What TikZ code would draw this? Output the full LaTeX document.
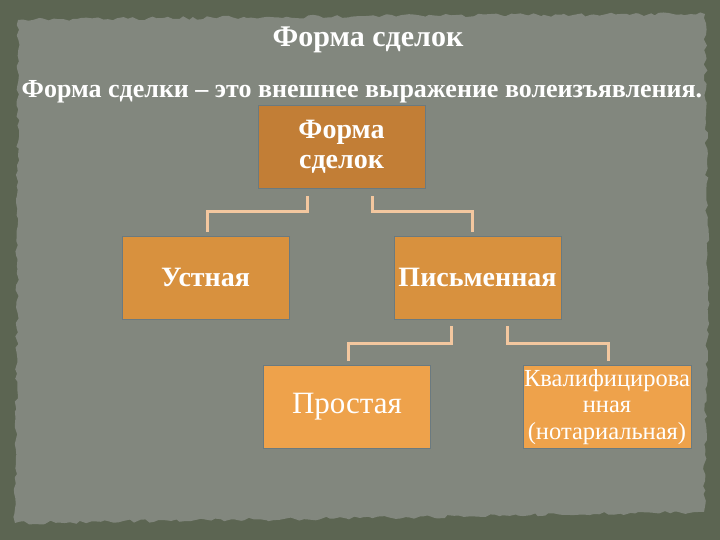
\documentclass[tikz,border=0pt]{standalone}
\usepackage{fontspec}
\setmainfont{Liberation Serif}
\usetikzlibrary{decorations.pathmorphing,calc}
\definecolor{outerbg}{HTML}{5C6552}
\definecolor{paper}{HTML}{82877E}
\definecolor{boxA}{HTML}{C27E36}
\definecolor{boxB}{HTML}{D8913E}
\definecolor{boxC}{HTML}{EEA24B}
\definecolor{peach}{HTML}{F3C79F}
\definecolor{edge}{HTML}{6A7A80}
\tikzset{
  box/.style={rectangle, minimum width=167pt, minimum height=83pt, inner sep=1pt,
    align=center, text=white, draw=edge, line width=0.8pt},
  lvlzero/.style={box, fill=boxA, font=\fontsize{28}{30}\selectfont\bfseries},
  lvlone/.style={box, fill=boxB, font=\fontsize{28}{30}\selectfont\bfseries},
  lvltwo/.style={box, fill=boxC, font=\fontsize{31}{33}\selectfont},
  conn/.style={draw=peach, line width=3pt},
  ttl/.style={text=white, inner sep=0pt}
}
\begin{document}
\begin{tikzpicture}[x=1pt,y=-1pt]
\useasboundingbox (0,0) rectangle (720,540);
\fill[outerbg] (0,0) rectangle (720,540);
\pgfmathsetseed{7}
\fill[paper, decorate, decoration={random steps,segment length=5pt,amplitude=1.8pt}]
  (18,20) -- (360,16) -- (705,14) -- (708,300) -- (704,512) -- (360,518) -- (15,523) -- (17,300) -- cycle;

\node[ttl, font=\fontsize{30}{34}\selectfont\bfseries] (title) at (368,40) {Форма сделок};
\node[ttl, font=\fontsize{26}{30}\selectfont\bfseries] (sub) at (362,92) {Форма сделки – это внешнее выражение волеизъявления.};

\node[lvlzero] (root) at (341.5,146.5) {Форма\\сделок};
\node[lvlone] (oral) at (205.5,277.5) {Устная};
\node[lvlone] (written) at (477.5,277.5) {Письменная};
\node[lvltwo] (simple) at (347,407) {Простая};
\node[lvltwo, font=\fontsize{24.5}{26.5}\selectfont] (qual) at (607,407) {Квалифицирова\\нная\\(нотариальная)};

\draw[conn] ($(root.south)+(-34.5,8)$) |- ($(oral.north)+(1.5,-24)$) -- ($(oral.north)+(1.5,-4)$);
\draw[conn] ($(root.south)+(30.5,8)$) |- ($(written.north)+(-5.5,-24)$) -- ($(written.north)+(-5.5,-4)$);
\draw[conn] ($(written.south)+(-26.5,7)$) |- ($(simple.north)+(1,-22)$) -- ($(simple.north)+(1,-4)$);
\draw[conn] ($(written.south)+(29.5,7)$) |- ($(qual.north)+(1,-22)$) -- ($(qual.north)+(1,-4)$);
\end{tikzpicture}
\end{document}
